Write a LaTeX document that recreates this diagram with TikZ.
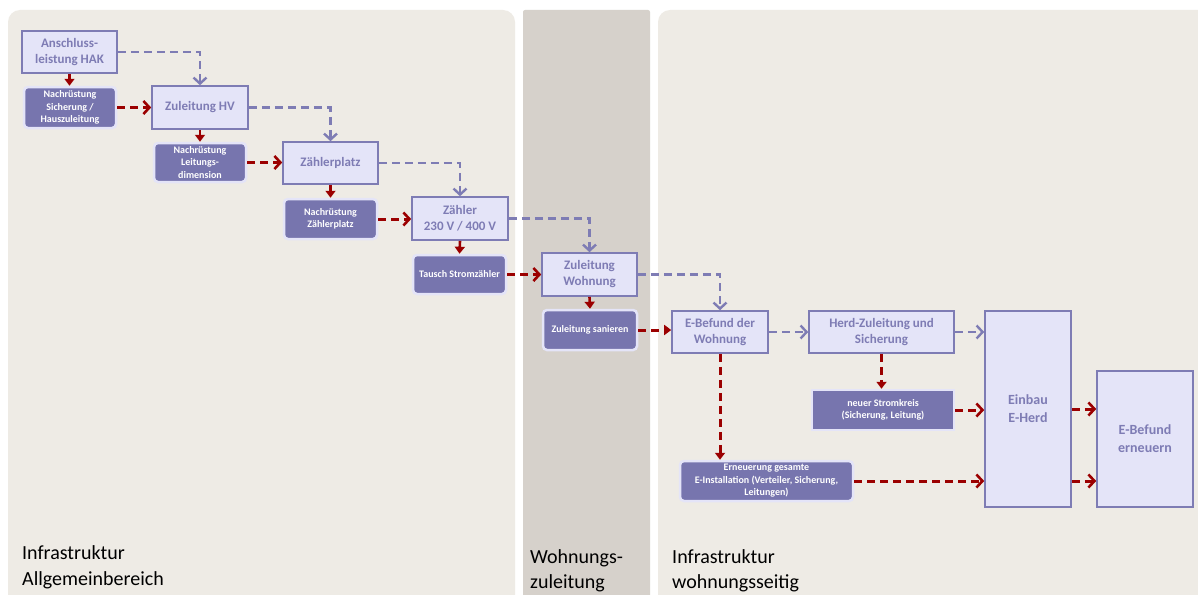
\documentclass[tikz,border=0pt]{standalone}
\usepackage{fontspec}
\setmainfont{Carlito}
\usepackage{xcolor}
\usepackage{tikz}
\usetikzlibrary{positioning, arrows.meta}

\definecolor{panellight}{HTML}{EEEBE5}
\definecolor{paneldark}{HTML}{D6D1CB}
\definecolor{boxfill}{HTML}{E4E4F8}
\definecolor{boxline}{HTML}{7E7CB4}
\definecolor{darkfill}{HTML}{7775AE}
\definecolor{flowred}{HTML}{9B0000}

\begin{document}
\begin{tikzpicture}[x=1pt,y=-1pt]
	\tikzstyle{stage}=[rectangle,draw=boxline,fill=boxfill,line width=1.6pt,text=boxline,
		font=\bfseries\fontsize{13}{16}\selectfont,align=center,inner sep=0pt]
	\tikzstyle{retrofit}=[rectangle,rounded corners=4pt,draw=boxfill,fill=darkfill,line width=2.5pt,
		text=white,font=\bfseries\fontsize{10}{12.5}\selectfont,align=center,inner sep=0pt]
	\tikzstyle{flow}=[draw=boxline,line width=2.8pt,dash pattern=on 8pt off 5pt,
		-{Straight Barb[length=6pt,width=13pt,line width=2.4pt]}]
	\tikzstyle{fix}=[draw=flowred,line width=3pt,dash pattern=on 8pt off 5pt,
		-{Straight Barb[length=6pt,width=13pt,line width=2.6pt]}]
	\tikzstyle{fixsmall}=[draw=flowred,line width=3pt,dash pattern=on 8pt off 5pt,
		-{Triangle[length=7pt,width=10pt]}]
	\tikzstyle{down}=[draw=flowred,line width=2.6pt,-{Triangle[length=7pt,width=10pt]}]
	\tikzstyle{label}=[anchor=base west,inner sep=0pt,font=\fontsize{20}{27}\selectfont,text=black]

	\clip (0,0) rectangle (1198,594);
	\useasboundingbox (0,0) rectangle (1198,594);
	\fill[white] (0,0) rectangle (1198,594);

	% Bereiche
	\fill[panellight,rounded corners=12pt] (8,10) rectangle (515,630);
	\fill[paneldark,rounded corners=2pt] (523,10) rectangle (650,630);
	\fill[panellight,rounded corners=12pt] (658,10) rectangle (1230,630);

	\node[label](allg1) at (22,559) {Infrastruktur};
	\node[label](allg2) at (22,585) {Allgemeinbereich};
	\node[label](whg1) at (530,563) {Wohnungs-};
	\node[label](whg2) at (530,588) {zuleitung};
	\node[label](ws1) at (672,563) {Infrastruktur};
	\node[label](ws2) at (672,588) {wohnungsseitig};

	% Stufen
	\node[stage,minimum width=95pt,minimum height=42pt](hak) at (69.5,52) {Anschluss-\\leistung HAK};
	\node[stage,minimum width=96pt,minimum height=43pt](zhv) at (200,107.5) {Zuleitung HV};
	\node[stage,minimum width=95pt,minimum height=42pt](zpl) at (330.5,163) {Zählerplatz};
	\node[stage,minimum width=96pt,minimum height=43pt](zae) at (460,218.5) {Zähler\\230 V / 400 V};
	\node[stage,minimum width=95pt,minimum height=43pt](zwo) at (589.5,274.5) {Zuleitung\\Wohnung};
	\node[stage,minimum width=96pt,minimum height=42pt](ebw) at (720,332) {E-Befund der\\Wohnung};
	\node[stage,minimum width=145pt,minimum height=42pt](hzs) at (881.5,332) {Herd-Zuleitung und\\Sicherung};
	\node[stage,minimum width=86pt,minimum height=196pt,font=\bfseries\fontsize{14}{18}\selectfont](ehe) at (1028,409) {Einbau\\E-Herd};
	\node[stage,minimum width=96pt,minimum height=136pt,font=\bfseries\fontsize{14}{18}\selectfont](eer) at (1145,439) {E-Befund\\erneuern};

	% Nachruestungen
	\node[retrofit,minimum width=92pt,minimum height=41pt](nsh) at (70,107.5) {Nachrüstung\\Sicherung /\\Hauszuleitung};
	\node[retrofit,minimum width=92pt,minimum height=39pt](nld) at (200,162.5) {Nachrüstung\\Leitungs-\\dimension};
	\node[retrofit,minimum width=93pt,minimum height=40pt](nzp) at (330.5,219) {Nachrüstung\\Zählerplatz};
	\node[retrofit,minimum width=93pt,minimum height=39pt](tsz) at (459.5,274.5) {Tausch Stromzähler};
	\node[retrofit,minimum width=94pt,minimum height=40pt](zsa) at (590,330) {Zuleitung sanieren};
	\node[retrofit,rounded corners=0pt,minimum width=142pt,minimum height=40pt](nsk) at (883,410) {neuer Stromkreis\\(Sicherung, Leitung)};
	\node[retrofit,minimum width=173pt,minimum height=40pt](ege) at (766.5,481) {Erneuerung gesamte\\E-Installation (Verteiler, Sicherung,\\Leitungen)};

	% regulaerer Ablauf
	\path[flow] (hak.east) -| (zhv.north);
	\path[flow] (zhv.east) -| (zpl.north);
	\path[flow] (zpl.east) -| (zae.north);
	\path[flow] (zae.east) -| (zwo.north);
	\path[flow] (zwo.east) -| (ebw.north);
	\path[flow] (ebw.east) -- (hzs.west);
	\path[flow] (hzs.east) -- (hzs.east -| ehe.west);

	% Nachruestung noetig
	\path[down] (hak.south) -- (hak.south |- nsh.north);
	\path[down] (zhv.south) -- (nld.north);
	\path[down] (zpl.south) -- (nzp.north);
	\path[down] (zae.south) -- (tsz.north);
	\path[down] (zwo.south) -- (zsa.north);
	\path[fix] (nsh.east) -- (zhv.west);
	\path[fix] (nld.east) -- (nld.east -| zpl.west);
	\path[fix] (nzp.east) -- (nzp.east -| zae.west);
	\path[fix] (tsz.east) -- (zwo.west);
	\path[fixsmall] (zsa.east) -- (zsa.east -| ebw.west);
	\path[fixsmall] (ebw.south) -- (ebw.south |- ege.north);
	\path[fixsmall] (hzs.south) -- (hzs.south |- nsk.north);
	\path[fix] (nsk.east) -- (nsk.east -| ehe.west);
	\path[fix] (ege.east) -- (ege.east -| ehe.west);
	\path[fix] (ehe.east) -- (ehe.east -| eer.west);
	\path[fix] (ehe.east |- ege.east) -- (eer.west |- ege.east);
\end{tikzpicture}
\end{document}
